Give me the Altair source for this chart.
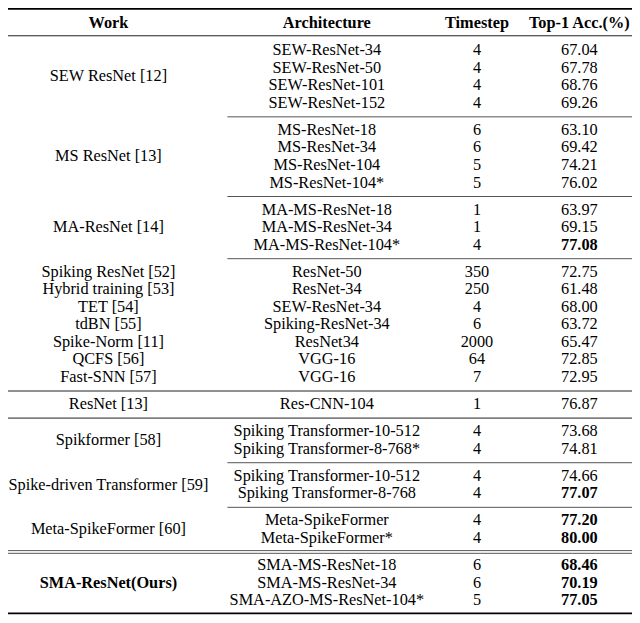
import altair as alt
import pandas as pd

# ---------------- data ----------------
columns = ["Work", "Architecture", "Timestep", "Top-1 Acc.(%)"]

works = [
    "SEW ResNet [12]", "MS ResNet [13]", "MA-ResNet [14]",
    "Spiking ResNet [52]", "Hybrid training [53]", "TET [54]", "tdBN [55]",
    "Spike-Norm [11]", "QCFS [56]", "Fast-SNN [57]",
    "ResNet [13]", "Spikformer [58]", "Spike-driven Transformer [59]",
    "Meta-SpikeFormer [60]", "SMA-ResNet(Ours)",
]
work_rows = [4, 4, 3, 1, 1, 1, 1, 1, 1, 1, 1, 2, 2, 2, 3]
bold_works = ["SMA-ResNet(Ours)"]

architectures = [
    "SEW-ResNet-34", "SEW-ResNet-50", "SEW-ResNet-101", "SEW-ResNet-152",
    "MS-ResNet-18", "MS-ResNet-34", "MS-ResNet-104", "MS-ResNet-104*",
    "MA-MS-ResNet-18", "MA-MS-ResNet-34", "MA-MS-ResNet-104*",
    "ResNet-50", "ResNet-34", "SEW-ResNet-34", "Spiking-ResNet-34",
    "ResNet34", "VGG-16", "VGG-16",
    "Res-CNN-104",
    "Spiking Transformer-10-512", "Spiking Transformer-8-768*",
    "Spiking Transformer-10-512", "Spiking Transformer-8-768",
    "Meta-SpikeFormer", "Meta-SpikeFormer*",
    "SMA-MS-ResNet-18", "SMA-MS-ResNet-34", "SMA-AZO-MS-ResNet-104*",
]
timesteps = [4, 4, 4, 4, 6, 6, 5, 5, 1, 1, 4, 350, 250, 4, 6, 2000, 64, 7,
             1, 4, 4, 4, 4, 4, 4, 6, 6, 5]
accuracies = [67.04, 67.78, 68.76, 69.26, 63.10, 69.42, 74.21, 76.02,
              63.97, 69.15, 77.08, 72.75, 61.48, 68.00, 63.72, 65.47,
              72.85, 72.95, 76.87, 73.68, 74.81, 74.66, 77.07, 77.20,
              80.00, 68.46, 70.19, 77.05]
bold_accuracies = [False, False, False, False, False, False, False, False,
                   False, False, True, False, False, False, False, False,
                   False, False, False, False, False, False, True, True,
                   True, True, True, True]

# separator drawn after a work block: "part" (from Architecture column),
# "full" (whole width) or "double"
separators = {0: "part", 1: "part", 2: "part", 9: "full", 10: "full",
              11: "part", 12: "part", 13: "double"}

# ---------------- layout (reference pixel units) ----------------
COL_X = [103, 327, 481, 586]
HEADER_Y = 15
FIRST_Y = 43.3
PITCH = 18.0
GAP = 27.8
PART_X0 = 225
FULL_W = 640
FULL_H = 623
FONT = "'Liberation Serif', 'Times New Roman', Times, serif"

cells = []
rules = []

for c, name in enumerate(columns):
    cells.append({"x": COL_X[c], "y": HEADER_Y, "label": name, "bold": True})

rules.append({"x": 0, "x2": FULL_W, "y": 0.9, "w": 1.8, "col": "#000000"})
rules.append({"x": 0, "x2": FULL_W, "y": 28.5, "w": 1.0, "col": "#222222"})

y = FIRST_Y
r = 0
for i, (wk, n) in enumerate(zip(works, work_rows)):
    ys = []
    for k in range(n):
        ys.append(y)
        cells.append({"x": COL_X[1], "y": y, "label": architectures[r], "bold": False})
        cells.append({"x": COL_X[2], "y": y, "label": str(timesteps[r]), "bold": False})
        cells.append({"x": COL_X[3], "y": y, "label": f"{accuracies[r]:.2f}",
                      "bold": bold_accuracies[r]})
        r += 1
        y += PITCH
    cells.append({"x": COL_X[0], "y": sum(ys) / len(ys), "label": wk,
                  "bold": wk in bold_works})
    if i in separators:
        ly = ys[-1] + GAP / 2 + 0.5
        kind = separators[i]
        if kind == "part":
            rules.append({"x": PART_X0, "x2": FULL_W, "y": ly, "w": 1.0, "col": "#555555"})
        elif kind == "full":
            rules.append({"x": 0, "x2": FULL_W, "y": ly, "w": 1.0, "col": "#222222"})
        else:
            rules.append({"x": 0, "x2": FULL_W, "y": ly - 1.4, "w": 0.9, "col": "#444444"})
            rules.append({"x": 0, "x2": FULL_W, "y": ly + 1.4, "w": 0.9, "col": "#444444"})
        y += GAP - PITCH

rules.append({"x": 0, "x2": FULL_W, "y": 621.3, "w": 1.8, "col": "#000000"})

cells_df = pd.DataFrame(cells)
rules_df = pd.DataFrame(rules)

xs = alt.Scale(domain=[0, FULL_W], nice=False, zero=False)
ysc = alt.Scale(domain=[0, FULL_H], nice=False, zero=False, reverse=True)

rule_layer = alt.Chart(rules_df).mark_rule().encode(
    x=alt.X("x:Q", scale=xs, axis=None),
    x2="x2:Q",
    y=alt.Y("y:Q", scale=ysc, axis=None),
    strokeWidth=alt.StrokeWidth("w:Q", scale=None, legend=None),
    color=alt.Color("col:N", scale=None, legend=None),
)

text_base = alt.Chart(cells_df).encode(
    x=alt.X("x:Q", scale=xs, axis=None),
    y=alt.Y("y:Q", scale=ysc, axis=None),
    text="label:N",
)
normal_text = text_base.transform_filter("!datum.bold").mark_text(
    font=FONT, fontSize=16.3, align="center", baseline="middle",
    color="#000000")
bold_text = text_base.transform_filter("datum.bold").mark_text(
    font=FONT, fontSize=16.3, fontWeight="bold", align="center",
    baseline="middle", color="#000000")

chart = alt.layer(rule_layer, normal_text, bold_text).properties(
    width=624, height=607, padding=0,
    autosize=alt.AutoSizeParams(type="none"),
    background="white",
).configure_view(stroke=None)

chart.save("out.html", embed_options={"renderer": "svg", "actions": False})
